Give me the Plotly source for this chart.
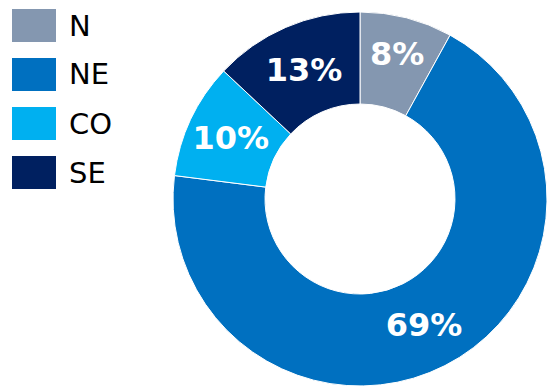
import plotly.graph_objects as go

regions = ["N", "NE", "CO", "SE"]
shares = [8, 69, 10, 13]
colors = ["#8497B0", "#0070C0", "#00B0F0", "#002060"]

W, H = 547, 387

fig = go.Figure()
fig.add_trace(go.Pie(
    labels=regions,
    values=shares,
    sort=False,
    direction="clockwise",
    rotation=0,
    hole=0.508,
    marker=dict(colors=colors, line=dict(color="white", width=1)),
    texttemplate="<b>%{value}%</b>",
    textposition="inside",
    insidetextorientation="horizontal",
    textfont=dict(family="DejaVu Sans", size=32, color="white"),
    domain=dict(x=[173 / W, 1.0], y=[1 / H, 375 / H]),
    showlegend=False,
))

# manual legend (large swatches)
top0 = 9
step = 49
for i, (lab, col) in enumerate(zip(regions, colors)):
    y0 = top0 + i * step
    fig.add_shape(type="rect", xref="paper", yref="paper",
                  x0=12 / W, x1=56 / W, y0=1 - (y0 + 33) / H, y1=1 - y0 / H,
                  fillcolor=col, line=dict(width=0))
    fig.add_annotation(xref="paper", yref="paper", x=67 / W, y=1 - (y0 + 16.5) / H,
                       text=lab, showarrow=False, xanchor="left", yanchor="middle",
                       font=dict(family="DejaVu Sans", size=29, color="#000000"))

fig.update_layout(
    width=W, height=H,
    margin=dict(l=0, r=0, t=0, b=0),
    paper_bgcolor="white",
    plot_bgcolor="white",
)

fig.write_html("out.html")
